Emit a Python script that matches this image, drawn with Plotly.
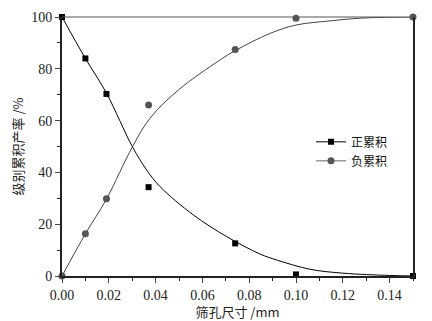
import plotly.graph_objects as go

# measured points
pos_x = [0.0, 0.010, 0.019, 0.037, 0.074, 0.100, 0.150]
pos_y = [100.0, 84.0, 70.3, 34.3, 12.6, 0.6, 0.0]
neg_x = [0.0, 0.010, 0.019, 0.037, 0.074, 0.100, 0.150]
neg_y = [0.0, 16.3, 29.8, 66.0, 87.5, 99.5, 100.0]

# fitted curves
pos_fit_x = [0.0, 0.010, 0.019, 0.0301, 0.0362, 0.0419, 0.0561, 0.0704, 0.0846, 0.0917, 0.106, 0.120, 0.140, 0.150]
pos_fit_y = [100.0, 84.0, 70.6, 49.9, 40.9, 34.5, 23.6, 15.2, 8.5, 6.2, 2.6, 1.1, 0.2, 0.0]
neg_fit_x = [0.0, 0.010, 0.019, 0.0301, 0.0376, 0.0497, 0.0675, 0.074, 0.089, 0.100, 0.1145, 0.1286, 0.150]
neg_fit_y = [0.0, 16.3, 29.7, 49.9, 60.9, 71.8, 83.4, 87.0, 93.7, 96.9, 98.5, 99.6, 100.0]

x_ticks = [0.00, 0.02, 0.04, 0.06, 0.08, 0.10, 0.12, 0.14]
x_tick_text = ["0.00", "0.02", "0.04", "0.06", "0.08", "0.10", "0.12", "0.14"]
y_ticks = [0, 20, 40, 60, 80, 100]

names = ["正累积", "负累积"]
DARK = "#000000"
GRAY = "#555555"
NUM_FONT = "Liberation Serif"
CJK_FONT = "Noto Sans CJK SC"

fig = go.Figure()
fig.add_trace(go.Scatter(x=pos_fit_x, y=pos_fit_y, mode="lines", line=dict(color=DARK, width=1, shape="spline", smoothing=1.0), showlegend=False, hoverinfo="skip"))
fig.add_trace(go.Scatter(x=neg_fit_x, y=neg_fit_y, mode="lines", line=dict(color="#444444", width=1, shape="spline", smoothing=1.0), showlegend=False, hoverinfo="skip"))
fig.add_trace(go.Scatter(x=pos_x, y=pos_y, mode="markers", marker=dict(symbol="square", size=6, color=DARK), showlegend=False, cliponaxis=False))
fig.add_trace(go.Scatter(x=neg_x, y=neg_y, mode="markers", marker=dict(symbol="circle", size=7, color=GRAY), showlegend=False, cliponaxis=False))
# legend entries
fig.add_trace(go.Scatter(x=[None], y=[None], mode="lines+markers", name=names[0], line=dict(color=DARK, width=1), marker=dict(symbol="square", size=6, color=DARK)))
fig.add_trace(go.Scatter(x=[None], y=[None], mode="lines+markers", name=names[1], line=dict(color="#999999", width=1.5), marker=dict(symbol="circle", size=7, color=GRAY)))

# page has an 8px body margin, so the figure is drawn 8px smaller and margins shifted
fig.update_layout(
    width=424, height=313,
    margin=dict(l=54, r=19, t=9, b=45, autoexpand=False),
    paper_bgcolor="white", plot_bgcolor="white",
    font=dict(family=NUM_FONT, size=14, color="#222222"),
    legend=dict(x=0.943, y=0.574, xanchor="right", yanchor="top", bgcolor="rgba(0,0,0,0)",
                font=dict(family=CJK_FONT, size=12, color="#111111"), itemwidth=30, tracegroupgap=0),
    xaxis=dict(range=[0, 0.15], tickvals=x_ticks, ticktext=x_tick_text, ticks="outside", ticklen=5, tickwidth=1,
               showline=True, linecolor="#222222", linewidth=2, showgrid=False, zeroline=False, automargin=False,
               minor=dict(dtick=0.01, ticks="outside", ticklen=3, tickcolor="#222222"),
               title=dict(text="筛孔尺寸 /mm", font=dict(family=CJK_FONT, size=13), standoff=6),
               tickfont=dict(family=NUM_FONT, size=14)),
    yaxis=dict(range=[0, 100], tickvals=y_ticks, ticks="outside", ticklen=5, tickwidth=1,
               showline=True, linecolor="#222222", linewidth=2, mirror=True, showgrid=False, zeroline=False, automargin=False,
               minor=dict(dtick=10, ticks="outside", ticklen=3, tickcolor="#222222"),
               title=dict(text="级别累积产率 /%", font=dict(family=CJK_FONT, size=13), standoff=8),
               tickfont=dict(family=NUM_FONT, size=14)),
)
fig.add_shape(type="line", xref="paper", yref="paper", x0=0, x1=1, y0=1, y1=1, line=dict(color="#555555", width=1))
fig.write_html("out.html")
